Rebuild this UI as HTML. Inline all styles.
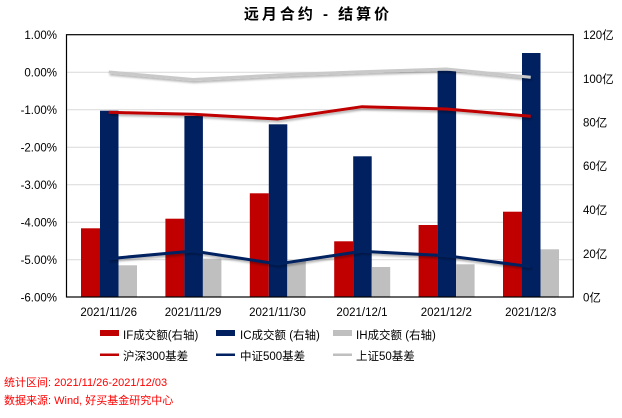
<!DOCTYPE html>
<html><head><meta charset="utf-8"><style>
body{margin:0;background:#fff;}
svg{display:block;font-family:"Liberation Sans","Noto Sans CJK SC",sans-serif;}
</style></head><body>
<svg width="622" height="418" viewBox="0 0 622 418" xmlns="http://www.w3.org/2000/svg">
<defs><filter id="sh" x="-5%" y="-50%" width="110%" height="200%"><feDropShadow dx="1" dy="2" stdDeviation="1" flood-color="#000" flood-opacity="0.3"/></filter></defs>
<text x="318" y="19" text-anchor="middle" font-size="15" font-weight="bold" letter-spacing="3" fill="#000">远月合约 - 结算价</text>
<g stroke="#d9d9d9" stroke-width="1">
<line x1="66.5" y1="72.2" x2="573.3" y2="72.2"/><line x1="66.5" y1="109.8" x2="573.3" y2="109.8"/>
<line x1="66.5" y1="147.3" x2="573.3" y2="147.3"/><line x1="66.5" y1="184.8" x2="573.3" y2="184.8"/>
<line x1="66.5" y1="222.3" x2="573.3" y2="222.3"/><line x1="66.5" y1="259.8" x2="573.3" y2="259.8"/>
</g>
<g font-size="11.5" fill="#000" text-anchor="end">
<text x="57" y="39">1.00%</text><text x="57" y="76.5">0.00%</text><text x="57" y="114">-1.00%</text>
<text x="57" y="151.5">-2.00%</text><text x="57" y="189">-3.00%</text><text x="57" y="226.5">-4.00%</text>
<text x="57" y="264">-5.00%</text><text x="57" y="301.5">-6.00%</text>
</g>
<g font-size="11.5" fill="#000">
<text x="583" y="39">120亿</text><text x="583" y="83">100亿</text><text x="583" y="126.5">80亿</text>
<text x="583" y="170">60亿</text><text x="583" y="214">40亿</text><text x="583" y="258">20亿</text><text x="583" y="301.5">0亿</text>
</g>
<g>
<rect x="81" y="228.3" width="19" height="68.7" fill="#c00000"/><rect x="100" y="110.7" width="18.5" height="186.3" fill="#002060"/><rect x="118.5" y="265.3" width="18.5" height="31.7" fill="#bfbfbf"/>
<rect x="165.4" y="218.7" width="19" height="78.3" fill="#c00000"/><rect x="184.4" y="116" width="18.5" height="181" fill="#002060"/><rect x="202.9" y="258.7" width="18.5" height="38.3" fill="#bfbfbf"/>
<rect x="249.8" y="193.3" width="19" height="103.7" fill="#c00000"/><rect x="268.8" y="124.3" width="18.5" height="172.7" fill="#002060"/><rect x="287.3" y="260.7" width="18.5" height="36.3" fill="#bfbfbf"/>
<rect x="334.2" y="241.3" width="19" height="55.7" fill="#c00000"/><rect x="353.2" y="156.3" width="18.5" height="140.7" fill="#002060"/><rect x="371.7" y="267" width="18.5" height="30" fill="#bfbfbf"/>
<rect x="418.6" y="225" width="19" height="72" fill="#c00000"/><rect x="437.6" y="70.7" width="18.5" height="226.3" fill="#002060"/><rect x="456.1" y="264.3" width="18.5" height="32.7" fill="#bfbfbf"/>
<rect x="503" y="211.7" width="19" height="85.3" fill="#c00000"/><rect x="522" y="53" width="18.5" height="244" fill="#002060"/><rect x="540.5" y="249.3" width="18.5" height="47.7" fill="#bfbfbf"/>
</g>
<g fill="none" stroke-width="3" filter="url(#sh)">
<polyline stroke="#c9c9c9" points="108.7,72 193.1,79.5 277.5,75 361.9,71.7 446.3,69 530.7,77.3"/>
<polyline stroke="#c00000" points="108.7,112.3 193.1,114.3 277.5,119 361.9,106.7 446.3,109 530.7,116.3"/>
<polyline stroke="#002060" points="108.7,258.7 193.1,251 277.5,264 361.9,251.3 446.3,255.7 530.7,266.7"/>
</g>
<rect x="66.5" y="34.7" width="506.8" height="262.3" fill="none" stroke="#000" stroke-width="1.2"/>
<g font-size="11.5" fill="#000" text-anchor="middle">
<text x="108.7" y="316">2021/11/26</text><text x="193.1" y="316">2021/11/29</text><text x="277.5" y="316">2021/11/30</text>
<text x="361.9" y="316">2021/12/1</text><text x="446.3" y="316">2021/12/2</text><text x="530.7" y="316">2021/12/3</text>
</g>
<g font-size="11.5" fill="#000">
<rect x="100" y="330" width="19" height="6" fill="#c00000"/><text x="123" y="339">IF成交额(右轴)</text>
<rect x="216" y="330" width="19" height="6" fill="#002060"/><text x="240" y="339">IC成交额 (右轴)</text>
<rect x="333" y="330" width="19" height="6" fill="#bfbfbf"/><text x="356" y="339">IH成交额 (右轴)</text>
<rect x="100" y="353.5" width="19" height="2.5" fill="#c00000"/><text x="123" y="360">沪深300基差</text>
<rect x="216" y="353.5" width="19" height="2.5" fill="#002060"/><text x="240" y="360">中证500基差</text>
<rect x="333" y="353.5" width="19" height="2.5" fill="#bfbfbf"/><text x="356" y="360">上证50基差</text>
</g>
<g font-size="11" fill="#ff0000">
<text x="4" y="386">统计区间: 2021/11/26-2021/12/03</text>
<text x="4" y="404">数据来源: Wind, 好买基金研究中心</text>
</g>
</svg>
</body></html>
